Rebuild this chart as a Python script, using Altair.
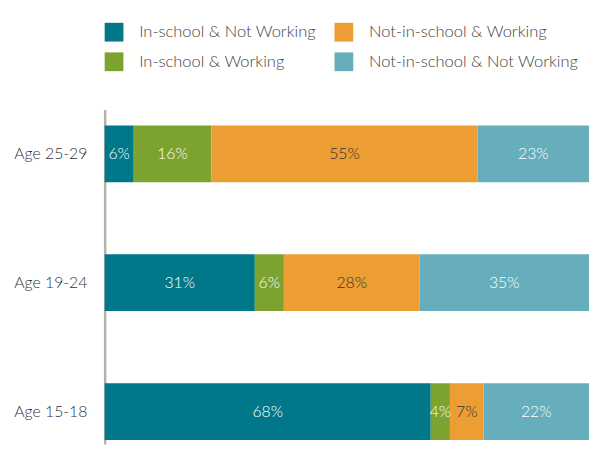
import altair as alt
import pandas as pd

ages = ["Age 25-29", "Age 19-24", "Age 15-18"]
categories = ["In-school & Not Working", "In-school & Working",
              "Not-in-school & Working", "Not-in-school & Not Working"]
colors = ["#00788A", "#7CA32F", "#EC9D33", "#66AEBB"]
label_colors = ["#FFFFFF", "#FFFFFF", "#333333", "#FFFFFF"]
values = {
    "Age 25-29": [6, 16, 55, 23],
    "Age 19-24": [31, 6, 28, 35],
    "Age 15-18": [68, 4, 7, 22],
}

rows = []
for a in ages:
    for i, c in enumerate(categories):
        rows.append({"age": a, "cat": c, "idx": i, "value": values[a][i],
                     "label": f"{values[a][i]}%", "tcolor": label_colors[i]})
df = pd.DataFrame(rows)

FONT = "Lato"

base = alt.Chart(df).transform_stack(
    stack="value", groupby=["age"], as_=["x0", "x1"],
    offset="normalize", sort=[alt.SortField("idx", order="ascending")]
).transform_calculate(mid="(datum.x0 + datum.x1) / 2")

yenc = alt.Y("age:N", sort=ages, title=None,
             scale=alt.Scale(paddingInner=0.56, paddingOuter=0.0765, align=0.8),
             axis=alt.Axis(ticks=False, domainColor="#B5B0A8", domainWidth=2.5,
                           labelPadding=18, labelFontSize=16, labelColor="#333333",
                           labelFont=FONT, labelFontWeight=300, minExtent=98,
                           maxExtent=98))
xscale = alt.Scale(domain=[0, 1], nice=False, zero=False)

bars = base.mark_bar().encode(
    y=yenc,
    x=alt.X("x0:Q", scale=xscale, axis=None),
    x2="x1:Q",
    color=alt.Color("cat:N", scale=alt.Scale(domain=categories, range=colors),
                    legend=alt.Legend(title=None, orient="none", legendX=0, legendY=-88,
                                      columns=2, symbolType="square", symbolSize=361,
                                      symbolStrokeWidth=0, labelOffset=16,
                                      columnPadding=18, rowPadding=11,
                                      labelFontSize=16.7, labelColor="#444444",
                                      labelFont=FONT, labelFontWeight=300,
                                      labelLimit=400)),
)

texts = base.mark_text(fontSize=16, font=FONT, fontWeight=300).encode(
    y=alt.Y("age:N", sort=ages),
    x=alt.X("mid:Q", scale=xscale),
    text="label:N",
    color=alt.Color("tcolor:N", scale=None),
)

chart = (bars + texts).properties(
    width=491, height=339,
    padding={"top": 12, "left": 0, "right": 0, "bottom": 0},
).configure_view(stroke=None)

chart.save("out.html", embed_options={"renderer": "svg", "actions": False})
